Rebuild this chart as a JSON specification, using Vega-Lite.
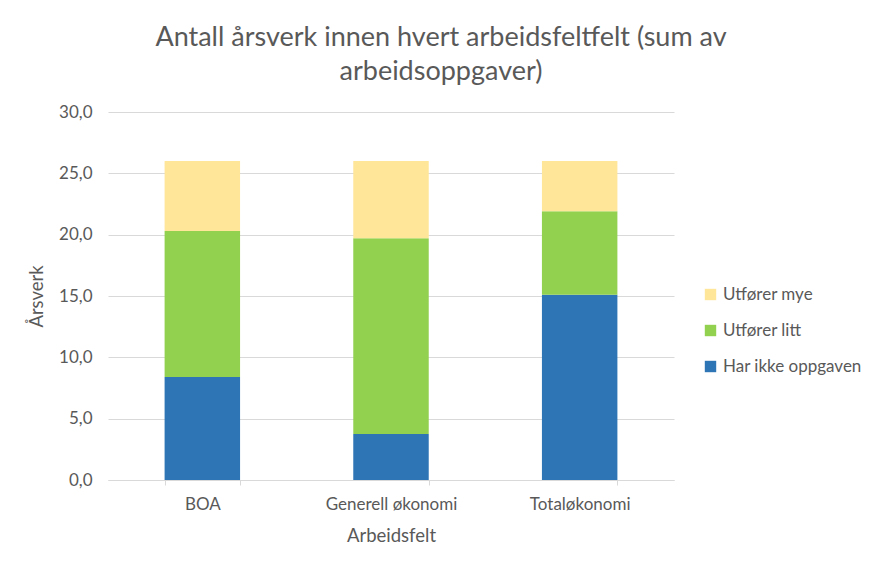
{
  "$schema": "https://vega.github.io/schema/vega-lite/v6.json",
  "width": 566,
  "height": 368,
  "autosize": {"type": "none"},
  "padding": {"left": 108, "top": 112, "right": 207, "bottom": 92},
  "background": "white",
  "title": {
    "text": ["Antall årsverk innen hvert arbeidsfeltfelt (sum av", "arbeidsoppgaver)"],
    "font": "Lato",
    "fontSize": 27,
    "fontWeight": "normal",
    "color": "#595959",
    "anchor": "middle",
    "dx": 50,
    "offset": 17,
    "lineHeight": 34
  },
  "config": {
    "locale": {"number": {"decimal": ",", "thousands": " ", "grouping": [3], "currency": ["", " kr"]}},
    "view": {"stroke": null},
    "font": "Lato"
  },
  "data": {
    "values": [
      {"felt": "BOA", "serie": "Har ikke oppgaven", "verdi": 8.4},
      {"felt": "BOA", "serie": "Utfører litt", "verdi": 11.9},
      {"felt": "BOA", "serie": "Utfører mye", "verdi": 5.7},
      {"felt": "Generell økonomi", "serie": "Har ikke oppgaven", "verdi": 3.75},
      {"felt": "Generell økonomi", "serie": "Utfører litt", "verdi": 15.95},
      {"felt": "Generell økonomi", "serie": "Utfører mye", "verdi": 6.3},
      {"felt": "Totaløkonomi", "serie": "Har ikke oppgaven", "verdi": 15.1},
      {"felt": "Totaløkonomi", "serie": "Utfører litt", "verdi": 6.8},
      {"felt": "Totaløkonomi", "serie": "Utfører mye", "verdi": 4.1}
    ]
  },
  "mark": {"type": "bar"},
  "encoding": {
    "x": {
      "field": "felt",
      "type": "nominal",
      "sort": ["BOA", "Generell økonomi", "Totaløkonomi"],
      "scale": {"paddingInner": 0.6, "paddingOuter": 0.3},
      "axis": {
        "title": "Arbeidsfelt",
        "titleFont": "Lato",
        "titleFontSize": 18.5,
        "titleFontWeight": "normal",
        "titleColor": "#595959",
        "titlePadding": 14,
        "labelAngle": 0,
        "labelFont": "Lato",
        "labelFontSize": 17,
        "labelColor": "#595959",
        "labelPadding": 11,
        "domainColor": "#D9D9D9",
        "ticks": true,
        "tickBand": "extent",
        "tickColor": "#D9D9D9",
        "tickSize": 5
      }
    },
    "y": {
      "field": "verdi",
      "type": "quantitative",
      "stack": "zero",
      "scale": {"domain": [0, 30]},
      "axis": {
        "title": "Årsverk",
        "titleFont": "Lato",
        "titleFontSize": 18.5,
        "titleFontWeight": "normal",
        "titleColor": "#595959",
        "titlePadding": 12,
        "values": [0, 5, 10, 15, 20, 25, 30],
        "format": ".1f",
        "labelFont": "Lato",
        "labelFontSize": 17,
        "labelColor": "#595959",
        "labelPadding": 16,
        "ticks": false,
        "domain": false,
        "gridColor": "#D9D9D9"
      }
    },
    "color": {
      "field": "serie",
      "type": "nominal",
      "scale": {
        "domain": ["Utfører mye", "Utfører litt", "Har ikke oppgaven"],
        "range": ["#FFE699", "#92D050", "#2E75B6"]
      },
      "legend": {
        "title": null,
        "orient": "none",
        "legendX": 594,
        "legendY": 174,
        "symbolType": "square",
        "symbolSize": 130,
        "symbolStrokeWidth": 0,
        "labelFont": "Lato",
        "labelFontSize": 17,
        "labelColor": "#595959",
        "labelOffset": 4,
        "rowPadding": 18
      }
    },
    "order": {"field": "serie", "sort": "ascending"}
  }
}
